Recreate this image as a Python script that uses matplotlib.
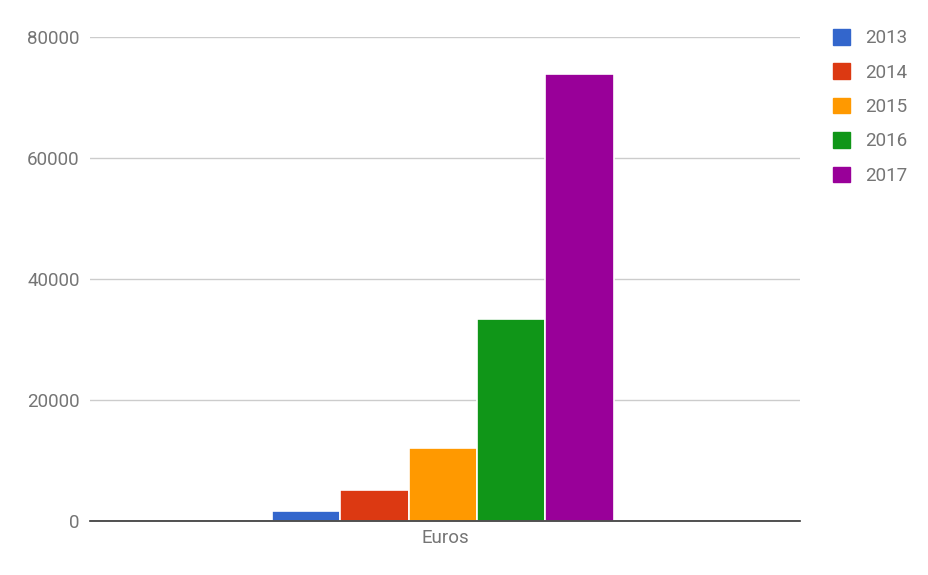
import numpy as np
import matplotlib
matplotlib.use("Agg")
import matplotlib.pyplot as plt

# data
years = ["2013", "2014", "2015", "2016", "2017"]
values = [1700, 5100, 12000, 33500, 74000]
colors = ["#3366cc", "#dc3912", "#ff9900", "#109618", "#990099"]
category = "Euros"
yticks = [0, 20000, 40000, 60000, 80000]

plt.rcParams['font.family'] = ['Roboto', 'DejaVu Sans']

fig = plt.figure(figsize=(9.29, 5.75), dpi=100)
ax = fig.add_axes([0.0969, 0.0939, 0.7641, 0.8409])

group_w = 0.482
bw = group_w / len(values)
xs = -0.003 - group_w / 2 + bw * (np.arange(len(values)) + 0.5)
ax.bar(xs, values, width=bw, color=colors, edgecolor="white",
       linewidth=1.2, zorder=3)

ax.set_xlim(-0.5, 0.5)
ax.set_ylim(0, 80000)
ax.set_yticks(yticks)
ax.set_yticklabels([str(v) for v in yticks])
ax.set_xticks([0])
ax.set_xticklabels([category])

ax.grid(axis="y", color="#cccccc", linewidth=1, zorder=0)
for s in ["top", "right", "left"]:
    ax.spines[s].set_visible(False)
ax.spines["bottom"].set_color("#333333")
ax.spines["bottom"].set_linewidth(1.2)
ax.spines["bottom"].set_zorder(4)
ax.tick_params(axis="both", length=0, labelsize=13.5, colors="#757575")
ax.tick_params(axis="y", pad=7.5)
ax.tick_params(axis="x", pad=6)

handles = [plt.Rectangle((0, 0), 1, 1, color=c) for c in colors]
leg = fig.legend(handles, years, loc="upper left",
                 bbox_to_anchor=(0.8967, 0.9495), frameon=False,
                 borderpad=0, borderaxespad=0,
                 fontsize=13.5, handlelength=0.9, handleheight=0.9,
                 handletextpad=0.8, labelspacing=0.86)
for t in leg.get_texts():
    t.set_color("#757575")

fig.savefig("out.png", dpi=100)
